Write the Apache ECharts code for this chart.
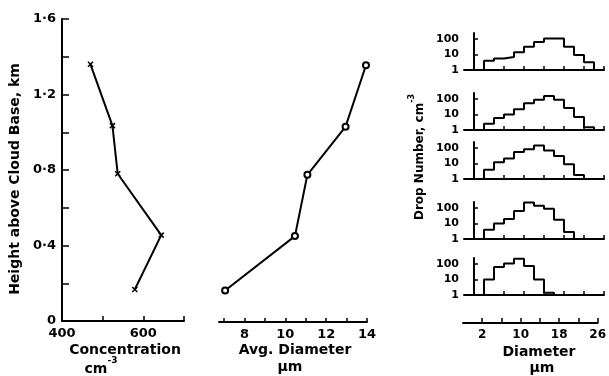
<!DOCTYPE html>
<html>
<head>
<meta charset="utf-8">
<script src="https://cdn.jsdelivr.net/npm/echarts@6/dist/echarts.min.js"></script>
<style>
html,body{margin:0;padding:0;background:#fff;}
#c{width:609px;height:376px;}
</style>
</head>
<body>
<div id="c"></div>
<script>
// ---- data ----
var heights = [0.167, 0.455, 0.78, 1.035, 1.36];          // km above cloud base
var concentration = [579, 644, 537, 524, 470];            // cm^-3
var avgDiameter = [7.05, 10.47, 11.08, 12.95, 13.95];     // µm
var heightTicks = [0, 0.4, 0.8, 1.2, 1.6];
var concTicks = [400, 600];
var diamTicks = [8, 10, 12, 14];
var binStart = 2;   // µm, first bin edge
var binWidth = 2;   // µm
// histograms from top (highest) to bottom (lowest)
var hist1 = [4, 5.5, 7, 14, 32, 65, 112, 112, 32, 9.5, 3.2];
var hist2 = [2.5, 6, 10, 22, 55, 90, 160, 90, 27, 7, 1.5];
var hist3 = [4, 12, 21, 57, 85, 148, 71, 31, 9, 1.8];
var hist4 = [4, 10, 20, 65, 230, 145, 90, 18, 2.8];
var hist5 = [10, 65, 110, 220, 75, 10, 1.4];
var histTickValues = [2, 6, 10, 14, 18, 22, 26];
var histLabelValues = [2, 10, 18, 26];
var logTicks = [1, 10, 100];

var FONT = 'DejaVu Sans';
var BLACK = '#000';

function stepData(bins) {
  var d = [[binStart, 1]];
  for (var i = 0; i < bins.length; i++) d.push([binStart + i * binWidth, bins[i]]);
  d.push([binStart + bins.length * binWidth, 1]);
  return d;
}

var hists = [hist1, hist2, hist3, hist4, hist5];
var histTops = [33, 93, 142, 202, 258];

var grids = [
  {left: 62, top: 19, width: 122, height: 302},
  {left: 219, top: 20, width: 148, height: 302}
];
var xAxes = [
  {gridIndex: 0, type: 'value', min: 400, max: 700,
   axisLine: {show: true, lineStyle: {color: BLACK, width: 2}},
   axisTick: {show: true, inside: true, length: 5, customValues: [400, 500, 600, 700], lineStyle: {color: BLACK, width: 1.5}},
   axisLabel: {customValues: concTicks, color: BLACK, fontFamily: FONT, fontWeight: 'bold', fontSize: 13, margin: 6},
   splitLine: {show: false}},
  {gridIndex: 1, type: 'value', min: 6.75, max: 14,
   axisLine: {show: true, lineStyle: {color: BLACK, width: 2}},
   axisTick: {show: true, inside: true, length: 4, customValues: [7, 8, 9, 10, 11, 12, 13, 14], lineStyle: {color: BLACK, width: 1.5}},
   axisLabel: {customValues: diamTicks, color: BLACK, fontFamily: FONT, fontWeight: 'bold', fontSize: 13, margin: 6},
   splitLine: {show: false}}
];
var yAxes = [
  {gridIndex: 0, type: 'value', min: 0, max: 1.6, interval: 0.2,
   axisLine: {show: true, lineStyle: {color: BLACK, width: 2}},
   axisTick: {show: true, inside: true, length: 7, lineStyle: {color: BLACK, width: 1.5}},
   axisLabel: {customValues: heightTicks, color: BLACK, fontFamily: FONT, fontWeight: 'bold', fontSize: 13, margin: 6,
     formatter: function (v) { return v === 0 ? '0' : v.toFixed(1).replace('.', '·'); }},
   splitLine: {show: false}},
  {gridIndex: 1, type: 'value', min: 0, max: 1.6, show: false}
];
var series = [
  {type: 'line', xAxisIndex: 0, yAxisIndex: 0,
   data: concentration.map(function (c, i) { return [c, heights[i]]; }),
   lineStyle: {color: BLACK, width: 2}, symbol: 'path://M0,0L10,10M10,0L0,10', symbolSize: 5,
   itemStyle: {color: BLACK, borderColor: BLACK, borderWidth: 1.5}, animation: false, z: 3},
  {type: 'line', xAxisIndex: 1, yAxisIndex: 1,
   data: avgDiameter.map(function (d, i) { return [d, heights[i]]; }),
   lineStyle: {color: BLACK, width: 2}, symbol: 'emptyCircle', symbolSize: 6, showAllSymbol: true,
   itemStyle: {color: BLACK, borderColor: BLACK, borderWidth: 1.5}, animation: false, z: 3}
];

hists.forEach(function (h, k) {
  var gi = grids.length;
  grids.push({left: 464, top: histTops[k], width: 140, height: 37});
  xAxes.push({gridIndex: gi, type: 'value', min: -2, max: 26,
    axisLine: {show: true, lineStyle: {color: BLACK, width: 2}},
    axisTick: {show: true, inside: true, length: 4, customValues: histTickValues, lineStyle: {color: BLACK, width: 1.5}},
    axisLabel: {show: false}, splitLine: {show: false}});
  yAxes.push({gridIndex: gi, type: 'log', logBase: 10, min: 1, max: 250,
    axisLine: {show: true, lineStyle: {color: BLACK, width: 2}},
    axisTick: {show: true, inside: true, length: 4, customValues: [10, 100], lineStyle: {color: BLACK, width: 1.5}},
    axisLabel: {customValues: logTicks, color: BLACK, fontFamily: FONT, fontWeight: 'bold', fontSize: 11, margin: 5},
    splitLine: {show: false}});
  series.push({type: 'line', xAxisIndex: gi, yAxisIndex: gi, data: stepData(h), step: 'end',
    symbol: 'none', lineStyle: {color: BLACK, width: 2}, animation: false});
});

// standalone diameter axis below the histograms
var bi = grids.length;
grids.push({left: 463, top: 300, width: 141, height: 23});
xAxes.push({gridIndex: bi, type: 'value', min: -2, max: 26,
  axisLine: {show: true, lineStyle: {color: BLACK, width: 2}},
  axisTick: {show: true, inside: true, length: 5, customValues: histTickValues, lineStyle: {color: BLACK, width: 1.5}},
  axisLabel: {customValues: histLabelValues, color: BLACK, fontFamily: FONT, fontWeight: 'bold', fontSize: 12, margin: 6},
  splitLine: {show: false}});
yAxes.push({gridIndex: bi, type: 'value', min: 0, max: 1, show: false});

function fnt(size) { return 'bold ' + size + 'px "' + FONT + '"'; }
function txt(x, y, s, size, rot) {
  return {type: 'text', x: x, y: y, rotation: rot || 0, silent: true,
    style: {text: s, fill: BLACK, font: fnt(size), align: 'center', verticalAlign: 'middle'}};
}
// text with a raised superscript part
function supTxt(x, y, base, sup, size, supSize, rot) {
  return {type: 'text', x: x, y: y, rotation: rot || 0, silent: true,
    style: {text: '{b|' + base + '}{s|' + sup + '}', align: 'center', verticalAlign: 'middle',
      rich: {
        b: {font: fnt(size), fill: BLACK, lineHeight: size + 6, verticalAlign: 'bottom'},
        s: {font: fnt(supSize), fill: BLACK, lineHeight: size + 6, verticalAlign: 'top'}
      }}};
}

var chart = echarts.init(document.getElementById('c'), null, {renderer: 'canvas'});
chart.setOption({
  backgroundColor: '#fff',
  animation: false,
  grid: grids,
  xAxis: xAxes,
  yAxis: yAxes,
  series: series,
  graphic: [
    txt(15, 179, 'Height above Cloud Base, km', 14, Math.PI / 2),
    txt(125, 350, 'Concentration', 14),
    supTxt(101, 366, 'cm', '-3', 14, 9),
    txt(295, 350, 'Avg. Diameter', 14),
    txt(290, 367, 'μm', 14),
    supTxt(417, 157, 'Drop Number, cm', '-3', 12, 8, Math.PI / 2),
    txt(539, 352, 'Diameter', 14),
    txt(542, 368, 'μm', 14)
  ]
});
</script>
</body>
</html>
